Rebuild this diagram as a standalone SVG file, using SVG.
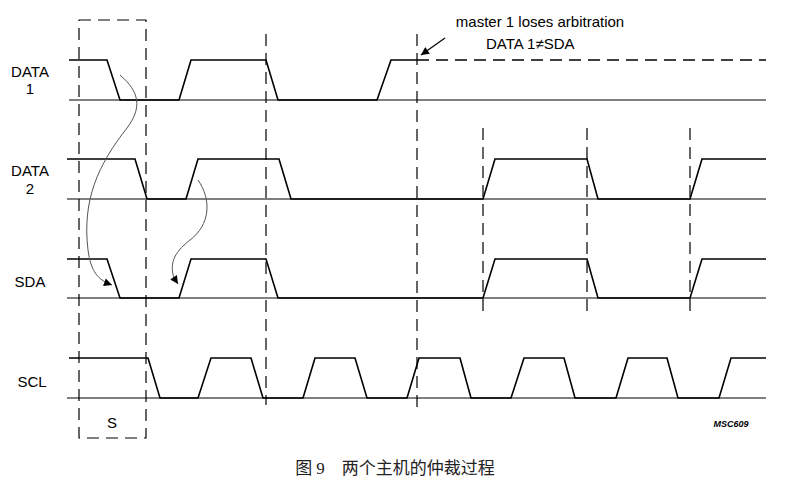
<svg xmlns="http://www.w3.org/2000/svg" width="790" height="487" viewBox="0 0 790 487">
<style>
.sig{fill:none;stroke:#000;stroke-width:1.6;stroke-linejoin:miter}
.base{fill:none;stroke:#000;stroke-width:1.2}
.dash{fill:none;stroke:#000;stroke-width:1.2;stroke-dasharray:12,7}
.lbl{font-family:"Liberation Sans",Arial,sans-serif;font-size:15px;fill:#000}
.cur{fill:none;stroke:#555;stroke-width:1}
</style>
<defs>
<marker id="ah" viewBox="0 0 10 10" refX="10" refY="5" markerWidth="11" markerHeight="8" markerUnits="userSpaceOnUse" orient="auto"><path d="M0,0 L10,5 L0,10 z" fill="#000"/></marker>
</defs>
<rect width="790" height="487" fill="#fff"/>
<g id="guides">
<path class="dash" d="M79,20 H146 V438 H79 Z"/>
<path class="dash" d="M266,34 V405"/>
<path class="dash" d="M417,34 V410"/>
<path class="dash" d="M483,128 V312"/>
<path class="dash" d="M587,128 V312"/>
<path class="dash" d="M690,128 V312"/>
</g>
<g id="data1">
<text class="lbl" x="30" y="77" text-anchor="middle">DATA</text>
<text class="lbl" x="30" y="94" text-anchor="middle">1</text>
<path class="base" d="M69,100 H766"/>
<path class="sig" d="M69,60 H107 L120,100 H179 L191,60 H266 L278,100 H377 L391,60 H417"/>
<path class="dash" d="M417,60 H766" style="stroke-width:1.6"/>
</g>
<g id="data2">
<text class="lbl" x="30" y="176" text-anchor="middle">DATA</text>
<text class="lbl" x="30" y="194" text-anchor="middle">2</text>
<path class="base" d="M67,199 H766"/>
<path class="sig" d="M67,159 H135 L147,199 H186 L198,159 H279 L291,199 H483 L495,159 H587 L598,199 H690 L702,159 H766"/>
</g>
<g id="sda">
<text class="lbl" x="30" y="287" text-anchor="middle">SDA</text>
<path class="base" d="M67,298 H766"/>
<path class="sig" d="M67,259 H107 L120,298 H179 L191,259 H266 L278,298 H483 L495,259 H587 L598,298 H690 L702,259 H766"/>
</g>
<g id="scl">
<text class="lbl" x="32" y="387" text-anchor="middle">SCL</text>
<path class="base" d="M67,398 H766"/>
<path class="sig" d="M69,358 H148 L160,398 H198 L211,358 H251 L263,398 H303 L315,358 H355 L367,398 H407 L419,358 H460 L471,398 H511 L524,358 H564 L575,398 H616 L628,358 H667 L678,398 H719 L731,358 H766"/>
</g>
<g id="labels">
<text class="lbl" x="112" y="428" text-anchor="middle">S</text>
<text x="731" y="427" text-anchor="middle" style="font-family:'Liberation Sans',Arial,sans-serif;font-size:9px;font-style:italic;font-weight:bold">MSC609</text>
<text class="lbl" x="540" y="27" text-anchor="middle">master 1 loses arbitration</text>
<text class="lbl" x="486" y="49">DATA 1≠SDA</text>
</g>
<g id="connectors">
<path class="base" d="M445,38 L421,55" marker-end="url(#ah)"/>
<path class="cur" d="M120,75 C140,92 142,108 127,128 C98,165 82,200 88,250 C91,272 98,280 112,285" marker-end="url(#ah)"/>
<path class="cur" d="M198,180 C212,200 210,225 190,240 C172,254 170,265 174,278 L178,284" marker-end="url(#ah)"/>
</g>
<text x="395" y="474" text-anchor="middle" style="font-family:'Liberation Serif','Noto Sans CJK SC',serif;font-size:17px;fill:#222">图 9　两个主机的仲裁过程</text>
</svg>
